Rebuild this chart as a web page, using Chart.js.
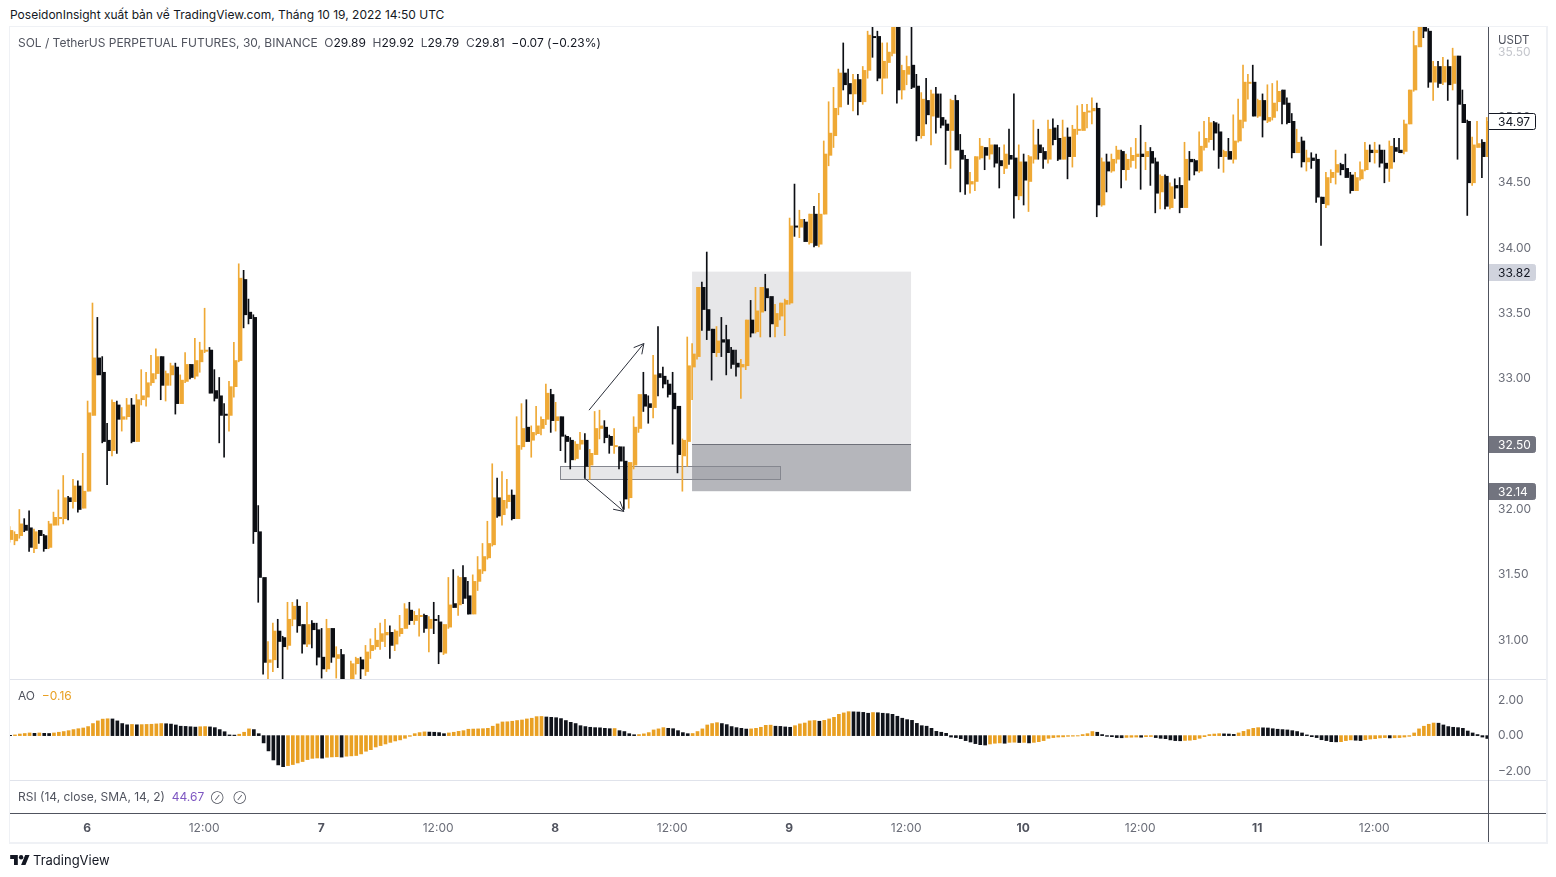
<!DOCTYPE html>
<html lang="vi">
<head>
<meta charset="UTF-8">
<title>SOL / TetherUS PERPETUAL FUTURES</title>
<script src="https://cdn.jsdelivr.net/npm/chart.js"></script>
<style>
  html, body { margin: 0; background: #fff; }
  body { width: 1556px; height: 877px; position: relative; overflow: hidden; font-family: Inter, "Liberation Sans", sans-serif; font-size: 12px; color: #50535e; }
  canvas { position: absolute; left: 10px; }
  #priceChart { top: 27px; }
  #aoChart { top: 680px; }
  #timeChart { top: 781px; }
  .line { position: absolute; }
  .txt { position: absolute; white-space: pre; line-height: 14px; }
  .txt b { font-weight: 400; color: #131722; }
</style>
</head>
<body>

<div class="txt" style="left:10px;top:8px;color:#131722">PoseidonInsight xuất bản về TradingView.com, Tháng 10 19, 2022 14:50 UTC</div>

<canvas id="priceChart" width="1536" height="652"></canvas>
<canvas id="aoChart" width="1536" height="100"></canvas>
<canvas id="timeChart" width="1536" height="61"></canvas>

<!-- khung -->
<div class="line" style="left:10px;top:26px;width:1536px;height:1px;background:#eff1f5"></div>
<div class="line" style="left:10px;top:842px;width:1536px;height:2px;background:#eff1f5"></div>
<div class="line" style="left:9px;top:26px;width:1px;height:818px;background:#eff1f5"></div>
<div class="line" style="left:1546px;top:26px;width:2px;height:818px;background:#eff1f5"></div>
<div class="line" style="left:10px;top:679px;width:1536px;height:1px;background:#e0e3eb"></div>
<div class="line" style="left:10px;top:780px;width:1536px;height:1px;background:#e0e3eb"></div>
<div class="line" style="left:10px;top:813px;width:1536px;height:1px;background:#50535e"></div>
<div class="line" style="left:1488px;top:27px;width:1px;height:815px;background:#50535e"></div>

<div class="txt" style="left:18px;top:36px;letter-spacing:-0.02px">SOL / TetherUS PERPETUAL FUTURES, 30, BINANCE  O<b>29.89</b>  H<b>29.92</b>  L<b>29.79</b>  C<b>29.81</b>  <b>−0.07 (−0.23%)</b></div>
<div class="txt" style="left:18px;top:689px">AO  <span style="color:#e9a023">−0.16</span></div>
<div class="txt" style="left:18px;top:790px">RSI (14, close, SMA, 14, 2)  <span style="color:#7e57c2">44.67</span>  <span style="font-size:9px">⊘</span>   <span style="font-size:9px">⊘</span></div>
<div class="txt" style="left:1498px;top:33px;font-size:11.5px">USDT</div>

<svg style="position:absolute;left:10px;top:854px" width="20" height="12" viewBox="0 0 36 22"><path fill="#131722" d="M14 20H7V9H0V2h14v18zM28 20h-8l7.5-18h8L28 20z"/><circle fill="#131722" cx="20" cy="6" r="4"/></svg>
<div class="txt" style="left:33px;top:853px;font-size:13px;color:#131722">TradingView</div>

<script>
  // gia doc tu anh, nen 30 phut
  const opens = [
    31.77,31.76,31.80,31.88,31.86,31.70,31.84,31.80,31.71,31.88,
    31.93,31.93,32.09,32.06,32.18,32.01,32.14,32.72,33.16,33.05,
    32.53,32.45,32.80,32.69,32.71,32.80,32.52,32.84,32.86,32.97,
    33.04,33.17,32.95,33.03,33.09,32.81,32.98,33.11,33.02,33.13,
    33.21,33.22,32.91,32.87,32.73,32.72,32.94,33.14,33.76,33.51,
    33.47,31.83,31.48,30.83,30.85,31.07,31.02,30.96,31.16,31.26,
    31.12,30.97,31.13,31.08,30.87,30.78,31.09,30.86,30.89,30.60,
    30.70,30.82,30.85,30.76,30.92,30.95,30.99,31.04,31.06,30.97,
    31.05,31.09,31.23,31.15,31.18,31.19,31.09,31.16,31.14,30.90,
    31.10,31.28,31.27,31.48,31.34,31.20,31.45,31.53,31.63,31.73,
    32.09,31.96,32.06,32.11,31.93,32.48,32.63,32.53,32.58,32.62,
    32.69,32.88,32.68,32.71,32.56,32.53,32.39,32.50,32.53,32.34,
    32.42,32.62,32.63,32.56,32.48,32.48,32.37,32.09,32.34,32.62,
    32.88,32.81,32.78,33.04,33.02,32.96,32.89,32.79,32.41,32.52,
    33.09,33.17,33.70,33.53,33.38,33.20,33.30,33.30,33.22,33.12,
    33.09,33.10,33.45,33.36,33.51,33.69,33.63,33.40,33.48,33.57,
    33.58,34.17,34.16,34.20,34.04,34.26,34.03,34.26,34.71,34.86,
    35.08,35.34,35.26,35.18,35.29,35.12,35.36,35.62,35.62,35.30,
    35.42,35.49,35.72,35.21,35.33,35.40,35.24,34.86,35.13,35.01,
    35.18,35.00,34.95,34.90,35.13,34.75,34.68,34.49,34.51,34.69,
    34.77,34.72,34.79,34.67,34.61,34.71,34.69,34.40,34.66,34.51,
    34.68,34.79,34.74,34.68,34.92,34.84,34.68,34.85,34.70,34.90,
    34.90,35.04,35.05,35.07,34.33,34.66,34.59,34.68,34.74,34.60,
    34.67,34.70,34.72,34.70,34.74,34.66,34.43,34.55,34.31,34.48,
    34.48,34.31,34.68,34.67,34.59,34.77,34.83,34.96,34.89,34.70,
    34.74,34.68,34.82,34.97,35.26,35.27,35.01,35.13,34.97,35.00,
    35.12,35.21,35.11,34.97,34.73,34.82,34.66,34.69,34.68,34.39,
    34.33,34.54,34.58,34.64,34.61,34.56,34.44,34.53,34.60,34.75,
    34.73,34.75,34.65,34.61,34.77,34.75,34.74,34.95,35.21,35.54,
    35.71,35.66,35.27,35.39,35.27,35.39,35.26,35.47,35.10,34.97,
    34.50,34.77,34.81,34.70
  ];
  const highs = [
    31.87,31.83,32.00,31.93,31.99,31.85,31.84,31.81,31.91,31.98,
    32.15,32.26,32.10,32.23,32.22,32.43,32.83,33.58,33.47,33.17,
    32.66,32.84,32.83,32.78,32.85,32.85,32.88,33.07,33.05,33.18,
    33.23,33.17,33.06,33.12,33.12,33.03,33.20,33.11,33.31,33.28,
    33.54,33.24,33.07,33.01,32.81,32.98,33.28,33.88,33.83,33.61,
    33.49,32.03,31.48,30.99,31.13,31.16,31.03,31.29,31.29,31.31,
    31.12,31.29,31.15,31.13,31.09,31.16,31.09,30.95,30.93,30.68,
    30.84,30.87,30.87,30.96,31.01,31.09,31.13,31.16,31.11,31.08,
    31.19,31.28,31.29,31.22,31.24,31.20,31.18,31.29,31.19,31.12,
    31.48,31.54,31.49,31.57,31.45,31.50,31.64,31.74,31.91,32.35,
    32.24,32.29,32.23,32.15,32.71,32.81,32.84,32.64,32.79,32.71,
    32.96,32.92,32.82,32.71,32.57,32.55,32.52,32.59,32.58,32.46,
    32.75,32.76,32.68,32.57,32.62,32.48,32.48,32.36,32.71,32.88,
    33.05,32.87,33.18,33.40,33.09,32.99,33.05,32.79,32.54,33.32,
    33.27,33.70,33.74,33.97,33.38,33.40,33.47,33.41,33.24,33.22,
    33.15,33.45,33.60,33.70,33.70,33.80,33.63,33.57,33.58,33.61,
    34.23,34.49,34.29,34.22,34.26,34.32,34.42,34.82,35.12,35.23,
    35.37,35.57,35.37,35.33,35.33,35.39,35.66,35.69,35.66,35.57,
    35.57,35.74,35.78,35.40,35.47,35.69,35.33,35.19,35.30,35.21,
    35.23,35.18,34.98,35.14,35.17,34.87,34.71,34.58,34.70,34.84,
    34.77,34.84,34.79,34.77,34.79,34.91,35.18,34.79,34.72,34.71,
    34.98,34.91,34.77,34.98,34.99,34.94,34.98,34.92,34.94,35.09,
    35.10,35.10,35.15,35.11,34.69,34.72,34.72,34.78,34.75,34.72,
    34.77,34.84,34.94,34.81,34.77,34.69,34.56,34.56,34.50,34.53,
    34.54,34.81,34.74,34.68,34.89,34.97,35.00,34.97,34.95,34.75,
    34.84,35.02,35.14,35.40,35.33,35.40,35.14,35.18,35.25,35.26,
    35.28,35.21,35.15,35.03,34.91,34.85,34.75,34.73,34.72,34.39,
    34.58,34.60,34.75,34.65,34.72,34.58,34.58,34.66,34.81,34.79,
    34.81,34.79,34.75,34.82,34.84,34.84,34.98,35.21,35.66,35.75,
    35.72,35.68,35.43,35.43,35.46,35.44,35.53,35.47,35.21,34.98,
    34.85,34.97,34.83,35.00
  ];
  const lows = [
    31.75,31.73,31.78,31.83,31.68,31.67,31.74,31.68,31.70,31.88,
    31.88,31.89,31.92,32.01,31.98,32.01,32.14,32.72,33.03,32.51,
    32.19,32.41,32.43,32.60,32.69,32.51,32.52,32.80,32.79,32.95,
    33.00,32.84,32.83,32.95,32.73,32.81,32.97,33.00,33.00,33.05,
    33.20,32.89,32.83,32.51,32.40,32.60,32.86,33.13,33.39,33.42,
    31.74,31.29,30.74,30.70,30.76,30.79,30.70,30.93,31.11,31.06,
    30.90,30.95,30.94,30.81,30.71,30.76,30.83,30.71,30.65,30.58,
    30.69,30.74,30.70,30.73,30.86,30.93,30.93,30.95,30.86,30.92,
    31.03,31.09,31.12,31.12,31.03,31.06,30.91,31.05,30.82,30.89,
    31.09,31.25,31.19,31.28,31.20,31.20,31.38,31.51,31.62,31.72,
    31.94,31.88,32.01,31.92,31.93,32.46,32.52,32.40,32.57,32.57,
    32.65,32.59,32.60,32.45,32.36,32.31,32.38,32.46,32.24,32.23,
    32.42,32.54,32.51,32.43,32.43,32.31,32.00,32.01,32.31,32.59,
    32.75,32.66,32.70,32.87,32.93,32.86,32.50,32.28,32.14,32.33,
    32.84,33.15,33.37,33.30,32.99,33.17,33.17,33.03,33.08,33.02,
    32.85,33.07,33.32,33.35,33.32,33.52,33.32,33.32,33.45,33.33,
    33.57,34.09,34.08,34.05,34.03,34.01,34.01,34.26,34.63,34.77,
    35.02,35.21,35.10,35.05,35.02,35.10,35.30,35.46,35.28,35.18,
    35.30,35.47,35.11,35.14,35.25,35.22,34.82,34.84,34.95,34.79,
    34.88,34.92,34.64,34.61,34.75,34.43,34.41,34.42,34.44,34.68,
    34.60,34.68,34.62,34.46,34.57,34.64,34.23,34.37,34.33,34.28,
    34.65,34.68,34.61,34.65,34.79,34.67,34.68,34.53,34.62,34.87,
    34.90,34.92,34.95,34.24,34.32,34.43,34.58,34.65,34.46,34.52,
    34.62,34.61,34.45,34.60,34.48,34.27,34.30,34.30,34.30,34.38,
    34.27,34.31,34.52,34.56,34.58,34.75,34.81,34.75,34.61,34.58,
    34.68,34.65,34.81,34.92,35.14,35.01,35.00,34.85,34.96,34.98,
    35.05,34.95,34.95,34.69,34.73,34.62,34.59,34.61,34.35,34.02,
    34.31,34.50,34.49,34.56,34.54,34.42,34.44,34.52,34.59,34.66,
    34.65,34.62,34.50,34.51,34.66,34.73,34.72,34.95,35.20,35.54,
    35.61,35.23,35.13,35.23,35.25,35.13,35.21,34.68,34.96,34.25,
    34.48,34.77,34.54,34.70
  ];
  const closes = [
    31.84,31.81,31.89,31.84,31.71,31.83,31.80,31.70,31.89,31.94,
    31.94,32.09,32.06,32.18,32.00,32.14,32.74,33.16,33.03,32.52,
    32.45,32.82,32.69,32.71,32.80,32.52,32.84,32.87,32.97,33.04,
    33.17,32.95,33.04,33.10,32.81,32.99,33.11,33.01,33.14,33.22,
    33.22,32.89,32.85,32.72,32.72,32.94,33.14,33.77,33.49,33.46,
    31.83,31.48,30.83,30.85,31.07,30.99,30.95,31.16,31.26,31.11,
    30.97,31.12,31.08,30.87,30.78,31.09,30.87,30.89,30.67,30.66,
    30.82,30.86,30.78,30.91,30.96,31.00,31.05,31.06,30.96,31.07,
    31.09,31.24,31.15,31.19,31.19,31.09,31.16,31.15,30.91,31.12,
    31.27,31.25,31.48,31.32,31.20,31.45,31.54,31.64,31.74,32.09,
    31.95,32.07,32.11,31.93,32.49,32.62,32.52,32.59,32.64,32.69,
    32.89,32.68,32.71,32.56,32.52,32.38,32.50,32.53,32.33,32.43,
    32.62,32.64,32.55,32.49,32.49,32.37,32.08,32.36,32.63,32.88,
    32.79,32.78,33.03,33.01,32.96,32.88,32.77,32.42,32.53,33.10,
    33.19,33.70,33.53,33.37,33.20,33.29,33.28,33.20,33.11,33.09,
    33.11,33.45,33.35,33.52,33.70,33.62,33.42,33.50,33.58,33.60,
    34.17,34.16,34.22,34.05,34.26,34.02,34.26,34.72,34.88,35.07,
    35.34,35.25,35.18,35.29,35.12,35.36,35.63,35.61,35.30,35.43,
    35.50,35.70,35.21,35.36,35.39,35.23,34.86,35.14,35.02,35.18,
    35.00,34.94,34.90,35.13,34.75,34.68,34.49,34.51,34.70,34.78,
    34.71,34.79,34.65,34.63,34.72,34.68,34.40,34.66,34.52,34.70,
    34.79,34.73,34.68,34.91,34.83,34.68,34.85,34.70,34.91,34.91,
    35.04,35.05,35.07,34.33,34.66,34.59,34.68,34.75,34.60,34.68,
    34.71,34.72,34.70,34.74,34.65,34.42,34.55,34.32,34.47,34.46,
    34.31,34.68,34.66,34.59,34.78,34.84,34.96,34.88,34.70,34.74,
    34.68,34.82,34.98,35.27,35.27,35.01,35.13,34.98,35.00,35.11,
    35.20,35.10,34.96,34.73,34.81,34.66,34.69,34.67,34.39,34.34,
    34.54,34.58,34.64,34.60,34.54,34.44,34.54,34.60,34.75,34.73,
    34.75,34.65,34.61,34.78,34.74,34.73,34.95,35.21,35.55,35.72,
    35.66,35.27,35.39,35.26,35.39,35.25,35.47,35.10,34.96,34.50,
    34.79,34.80,34.70,34.97
  ];
  const aoValues = [
    0.01,0.04,0.09,0.12,0.15,0.13,0.15,0.13,0.12,0.15,
    0.19,0.23,0.28,0.34,0.39,0.43,0.51,0.68,0.83,0.93,
    0.95,0.94,0.83,0.68,0.61,0.63,0.61,0.62,0.63,0.64,
    0.66,0.68,0.67,0.65,0.60,0.53,0.52,0.50,0.48,0.50,
    0.51,0.49,0.45,0.34,0.22,0.04,0.03,0.08,0.19,0.38,
    0.34,0.11,-0.41,-0.86,-1.37,-1.65,-1.75,-1.69,-1.63,-1.54,
    -1.46,-1.35,-1.28,-1.26,-1.27,-1.22,-1.20,-1.19,-1.21,-1.16,
    -1.14,-1.12,-1.03,-0.88,-0.79,-0.64,-0.56,-0.47,-0.38,-0.30,
    -0.24,-0.15,-0.04,0.11,0.17,0.21,0.20,0.19,0.17,0.11,
    0.15,0.19,0.24,0.28,0.36,0.37,0.38,0.39,0.41,0.53,
    0.66,0.77,0.78,0.81,0.85,0.88,0.94,0.98,1.07,1.08,
    1.05,1.03,1.01,0.96,0.85,0.75,0.68,0.56,0.51,0.47,
    0.45,0.44,0.41,0.39,0.40,0.28,0.23,0.11,0.05,0.06,
    0.10,0.17,0.32,0.38,0.45,0.41,0.39,0.28,0.17,0.11,
    0.12,0.23,0.38,0.60,0.68,0.73,0.68,0.62,0.51,0.45,
    0.41,0.37,0.38,0.41,0.47,0.58,0.59,0.53,0.52,0.49,
    0.47,0.56,0.66,0.71,0.83,0.85,0.81,0.86,0.94,1.03,
    1.20,1.28,1.35,1.34,1.33,1.31,1.26,1.30,1.29,1.26,
    1.24,1.20,1.09,0.98,0.90,0.86,0.69,0.56,0.53,0.41,
    0.24,0.19,0.13,-0.08,-0.11,-0.17,-0.28,-0.36,-0.45,-0.51,
    -0.53,-0.47,-0.43,-0.41,-0.43,-0.38,-0.37,-0.39,-0.38,-0.41,
    -0.38,-0.34,-0.28,-0.15,-0.11,-0.08,-0.07,-0.04,-0.03,-0.02,
    0.06,0.11,0.23,0.19,0.06,-0.04,-0.06,-0.11,-0.12,-0.10,
    -0.09,-0.08,-0.09,-0.06,-0.05,-0.11,-0.15,-0.17,-0.24,-0.28,
    -0.29,-0.27,-0.26,-0.23,-0.15,-0.06,0.06,0.09,0.11,0.10,
    0.09,0.07,0.15,0.24,0.34,0.41,0.45,0.44,0.43,0.39,
    0.36,0.34,0.32,0.28,0.23,0.15,0.04,-0.06,-0.11,-0.23,
    -0.28,-0.34,-0.35,-0.34,-0.28,-0.24,-0.26,-0.28,-0.23,-0.19,
    -0.17,-0.13,-0.11,-0.13,-0.12,-0.11,-0.08,-0.04,0.15,0.38,
    0.53,0.64,0.71,0.70,0.60,0.51,0.47,0.45,0.41,0.26,
    0.15,0.06,-0.08,-0.16
  ];
  const timeTickIndexes = [16, 40, 64, 88, 112, 136, 160, 184, 208, 232, 256, 280];
  const timeTickLabels = ["6", "12:00", "7", "12:00", "8", "12:00", "9", "12:00", "10", "12:00", "11", "12:00"];
  const dayLabels = ["6", "7", "8", "9", "10", "11"];

  // vung ve tay: [index dau, index cuoi, gia tren, gia duoi]
  const zoneUpper = [139.88, 184.8, 33.82, 32.50];
  const zoneLower = [139.88, 184.8, 32.50, 32.14];
  const zoneThin = [112.8, 157.9, 32.33, 32.23];
  // mui ten: [index dau, gia dau, index cuoi, gia cuoi]
  const arrowUp = [118.75, 32.76, 130.0, 33.27];
  const arrowDown = [117.7, 32.245, 125.9, 31.985];

  const priceTagValues = [34.97, 33.82, 32.50, 32.14];

  const MAU_TANG = "#efa935";
  const MAU_GIAM = "#0c0e13";
  const xMin = 0.18, xMax = 303.35;
  const fontChu = "Inter, 'Liberation Sans', sans-serif";
  const viTri = opens.map((_, i) => i);
  const mauNen = closes.map((c, i) => c >= opens[i] ? MAU_TANG : MAU_GIAM);
  const mauAo = aoValues.map((v, i) => i > 0 && v > aoValues[i - 1] ? "#e9a023" : "#10131a");

  // bo phan dem nhan de truc chiem het chieu cao canvas
  function khopTrucY(s) {
    s.width = 58;
    s.paddingTop = 0;
    s.paddingBottom = 0;
  }

  function veVung(ctx, x, y, v, fill) {
    const x1 = x.getPixelForValue(v[0]), x2 = x.getPixelForValue(v[1]);
    const y1 = y.getPixelForValue(v[2]), y2 = y.getPixelForValue(v[3]);
    ctx.fillStyle = fill;
    ctx.fillRect(x1, y1, x2 - x1, y2 - y1);
    return [x1, y1, x2, y2];
  }

  function veMuiTen(ctx, x, y, a) {
    const x1 = x.getPixelForValue(a[0]), y1 = y.getPixelForValue(a[1]);
    const x2 = x.getPixelForValue(a[2]), y2 = y.getPixelForValue(a[3]);
    const goc = Math.atan2(y2 - y1, x2 - x1);
    ctx.beginPath();
    ctx.moveTo(x1, y1);
    ctx.lineTo(x2, y2);
    ctx.moveTo(x2 - 11 * Math.cos(goc - 0.5), y2 - 11 * Math.sin(goc - 0.5));
    ctx.lineTo(x2, y2);
    ctx.lineTo(x2 - 11 * Math.cos(goc + 0.5), y2 - 11 * Math.sin(goc + 0.5));
    ctx.stroke();
  }

  const vungPlugin = {
    id: "vung",
    beforeDatasetsDraw(chart) {
      const { ctx, scales: { x, y } } = chart;
      ctx.save();
      veVung(ctx, x, y, zoneUpper, "rgba(120,123,134,0.18)");
      const d = veVung(ctx, x, y, zoneLower, "rgba(70,72,85,0.40)");
      ctx.fillStyle = "#6e7079";
      ctx.fillRect(d[0], Math.round(d[1]), d[2] - d[0], 1);
      const t = veVung(ctx, x, y, zoneThin, "rgba(120,123,134,0.18)");
      ctx.strokeStyle = "#85878f";
      ctx.lineWidth = 1;
      ctx.strokeRect(Math.round(t[0]) + 0.5, Math.round(t[1]) + 0.5, Math.round(t[2] - t[0]), Math.round(t[3] - t[1]));
      ctx.restore();
    },
    afterDatasetsDraw(chart) {
      const { ctx, scales: { x, y } } = chart;
      ctx.save();
      ctx.strokeStyle = "#2a2e39";
      ctx.lineWidth = 1;
      veMuiTen(ctx, x, y, arrowUp);
      veMuiTen(ctx, x, y, arrowDown);
      ctx.restore();
    }
  };

  const nhanGiaPlugin = {
    id: "nhanGia",
    afterDraw(chart) {
      const { ctx, scales: { y } } = chart;
      const kieu = [
        { nen: "#ffffff", vien: "#131722", chu: "#131722" },
        { nen: "#d0d3dd", vien: "#d0d3dd", chu: "#131722" },
        { nen: "#72747f", vien: "#72747f", chu: "#ffffff" },
        { nen: "#72747f", vien: "#72747f", chu: "#ffffff" }
      ];
      ctx.save();
      ctx.font = "12px " + fontChu;
      ctx.textBaseline = "middle";
      ctx.textAlign = "left";
      priceTagValues.forEach((gia, i) => {
        const py = Math.round(y.getPixelForValue(gia));
        const k = kieu[i];
        ctx.fillStyle = k.nen;
        ctx.strokeStyle = k.vien;
        ctx.beginPath();
        ctx.roundRect(1478.5, py - 7.5, 47, 16, [0, 2, 2, 0]);
        ctx.fill();
        ctx.stroke();
        ctx.fillStyle = k.chu;
        ctx.fillText(gia.toFixed(2), 1488, py + 1);
      });
      ctx.restore();
    }
  };

  // nen va cot AO lech 1px sang phai so voi nhan thoi gian
  const oxAn = { type: "linear", min: xMin - 0.2, max: xMax - 0.2, offset: false, display: false, grid: { display: false } };

  new Chart(document.getElementById("priceChart"), {
    type: "bar",
    data: {
      datasets: [
        {
          label: "Bóng nến",
          data: viTri.map(i => ({ x: i, y: [lows[i], highs[i]] })),
          backgroundColor: mauNen,
          barThickness: 1,
          borderWidth: 0
        },
        {
          label: "Thân nến",
          data: viTri.map(i => ({ x: i, y: [opens[i], closes[i]] })),
          backgroundColor: mauNen,
          barThickness: 2.8,
          borderWidth: 0
        }
      ]
    },
    plugins: [vungPlugin, nhanGiaPlugin],
    options: {
      responsive: false,
      animation: false,
      events: [],
      layout: { padding: 0 },
      plugins: { legend: { display: false }, tooltip: { enabled: false } },
      scales: {
        x: { ...oxAn, stacked: false },
        y: {
          position: "right",
          min: 30.703,
          max: 35.692,
          afterFit: khopTrucY,
          grid: { display: false, drawTicks: false },
          border: { display: false },
          ticks: {
            stepSize: 0.5,
            includeBounds: false,
            padding: 10,
            color: c => c.tick.value > 35.4 ? "#c4c6cc" : "#6a6d78",
            font: { family: fontChu, size: 12 },
            callback: v => v.toFixed(2)
          }
        }
      }
    }
  });

  new Chart(document.getElementById("aoChart"), {
    type: "bar",
    data: {
      datasets: [{
        label: "AO",
        data: viTri.map(i => ({ x: i, y: aoValues[i] })),
        backgroundColor: mauAo,
        barThickness: 3,
        borderWidth: 0
      }]
    },
    options: {
      responsive: false,
      animation: false,
      events: [],
      layout: { padding: 0 },
      plugins: { legend: { display: false }, tooltip: { enabled: false } },
      scales: {
        x: oxAn,
        y: {
          position: "right",
          min: -2.50,
          max: 3.134,
          afterFit: khopTrucY,
          grid: { display: false, drawTicks: false },
          border: { display: false },
          ticks: {
            stepSize: 2,
            includeBounds: false,
            padding: 10,
            color: "#6a6d78",
            font: { family: fontChu, size: 12 },
            callback: v => v.toFixed(2).replace("-", "−")
          }
        }
      }
    }
  });

  new Chart(document.getElementById("timeChart"), {
    type: "line",
    data: { datasets: [{ label: "RSI", data: [] }] },
    options: {
      responsive: false,
      animation: false,
      events: [],
      layout: { padding: { right: 58 } },
      plugins: { legend: { display: false }, tooltip: { enabled: false } },
      scales: {
        y: { display: false },
        x: {
          type: "linear",
          min: xMin,
          max: xMax,
          afterFit: s => { s.height = 29; },
          afterBuildTicks: s => { s.ticks = timeTickIndexes.map(v => ({ value: v })); },
          grid: { display: false, drawTicks: false },
          border: { display: false },
          ticks: {
            autoSkip: false,
            maxRotation: 0,
            padding: 8,
            color: c => dayLabels.includes(timeTickLabels[c.index]) ? "#50535e" : "#6a6d78",
            font: c => ({ family: fontChu, size: 12, weight: dayLabels.includes(timeTickLabels[c.index]) ? "700" : "400" }),
            callback: (v, i) => timeTickLabels[i]
          }
        }
      }
    }
  });
</script>
</body>
</html>
